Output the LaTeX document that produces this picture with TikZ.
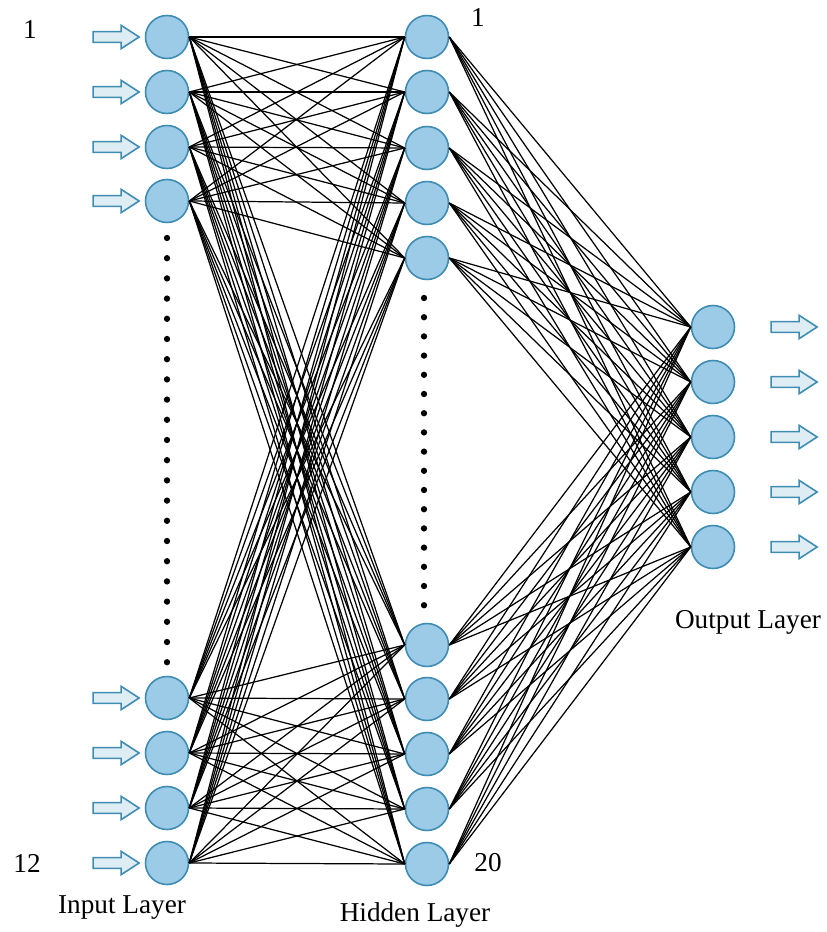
\documentclass[tikz,border=0pt]{standalone}
\usepackage{fontspec}
\setmainfont{Liberation Serif}
\usetikzlibrary{shapes.arrows}

\definecolor{neuronfill}{RGB}{156,203,232}
\definecolor{neuronedge}{RGB}{62,140,178}
\definecolor{arrowfill}{RGB}{222,236,244}

\begin{document}
\begin{tikzpicture}[x = 0.02cm, y = -0.02cm,
    neuron/.style = {shape = circle, draw = neuronedge, fill = neuronfill, line width = 0.9pt, minimum size = 0.86cm, inner sep = 0pt},
    signal/.style = {shape = single arrow, draw = neuronedge, fill = arrowfill, line width = 0.9pt, minimum height = 0.92cm, inner sep = 2.6pt, single arrow head extend = 3.6pt, single arrow tip angle = 66},
    link/.style = {black, line width = 0.7pt},
    lbl/.style = {font = \fontsize{15.5}{18}\selectfont}]
    \useasboundingbox (0,0) rectangle (827,932);
    % input layer
    \foreach \n/\y in {1/37, 2/92, 3/147, 4/201, 5/698, 6/753, 7/808, 8/863}{
        \node[neuron] (I\n) at (167,\y) {};
        \node[signal] (A\n) at (112,\y) {};
    }
    % hidden layer
    \foreach \n/\y in {1/37, 2/92, 3/148, 4/203, 5/258, 6/645, 7/699, 8/754, 9/809, 10/864}
        \node[neuron] (H\n) at (427,\y) {};
    % output layer
    \foreach \n/\y in {1/327, 2/382, 3/437, 4/492, 5/547}{
        \node[neuron] (O\n) at (713,\y) {};
        \node[signal] (B\n) at (790,\y) {};
    }
    % weights
    \foreach \i in {1,...,8}
        \foreach \h in {1,...,10}
            \draw[link] (I\i.east) -- (H\h.west);
    \foreach \h in {1,...,10}
        \foreach \o in {1,...,5}
            \draw[link] (H\h.east) -- (O\o.west);
    % dots
    \foreach \k in {0,...,21}
        \fill (167,{238+20.2*\k}) circle (1.8pt);
    \foreach \k in {0,...,16}
        \fill (424,{298+19.2*\k}) circle (1.8pt);
    % labels
    \node[lbl] (L1) at (30,30) {1};
    \node[lbl] (L12) at (27,863) {12};
    \node[lbl] (M1) at (478,18) {1};
    \node[lbl] (M20) at (488,863) {20};
    \node[lbl] (IL) at (122,908) {Input Layer};
    \node[lbl] (HL) at (415,915) {Hidden Layer};
    \node[lbl] (OL) at (748,622) {Output Layer};
\end{tikzpicture}
\end{document}
